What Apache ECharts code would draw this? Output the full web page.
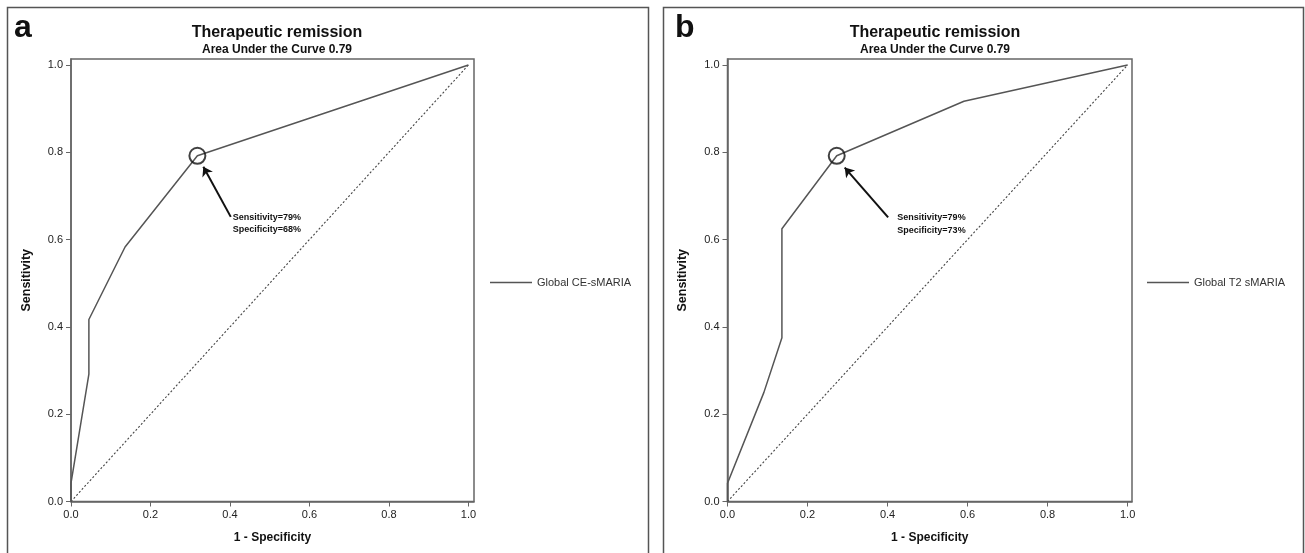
<!DOCTYPE html>
<html>
<head>
<meta charset="utf-8">
<script src="https://cdn.jsdelivr.net/npm/echarts@6/dist/echarts.min.js"></script>
<style>
html,body{margin:0;padding:0;background:#fff;}
#c{width:1305px;height:553px;}
</style>
</head>
<body>
<div id="c"></div>
<script>
// ---- data ----
const TICKS = [0, 0.2, 0.4, 0.6, 0.8, 1.0];
const fprA = [0, 0, 0.045, 0.045, 0.136, 0.318, 1];
const tprA = [0, 0.042, 0.292, 0.417, 0.583, 0.792, 1];
const fprB = [0, 0, 0.091, 0.136, 0.136, 0.273, 0.591, 1];
const tprB = [0, 0.042, 0.25, 0.375, 0.625, 0.792, 0.917, 1];
const refLine = [0, 1];
const cutA = [0.318, 0.792];
const cutB = [0.273, 0.792];
const panelLabels = ['a', 'b'];
const titleText = 'Therapeutic remission';
const subtitleText = 'Area Under the Curve 0.79';
const seriesNames = ['Global CE-sMARIA', 'Global T2 sMARIA'];
const annotA = ['Sensitivity=79%', 'Specificity=68%'];
const annotB = ['Sensitivity=79%', 'Specificity=73%'];

const FONT = '"Liberation Sans", Arial, Helvetica, sans-serif';
const AXC = '#666';
const LINEC = '#555';

function zip(xs, ys) { return xs.map((x, i) => [x, ys[i]]); }

function xAxisFor(gi, max) {
  return {
    type: 'value', gridIndex: gi, min: 0, max: max,
    name: '1 - Specificity', nameLocation: 'middle', nameGap: 30,
    nameTextStyle: { fontFamily: FONT, fontWeight: 'bold', fontSize: 12, color: '#111' },
    axisLine: { show: true, lineStyle: { color: AXC, width: 1.5 } },
    axisTick: { show: true, inside: false, length: 5, customValues: TICKS, lineStyle: { color: AXC, width: 1 } },
    axisLabel: { customValues: TICKS, formatter: v => v.toFixed(1), margin: 8,
      fontFamily: FONT, fontSize: 11, color: '#222' },
    splitLine: { show: false }
  };
}
function yAxisFor(gi, max) {
  return {
    type: 'value', gridIndex: gi, min: 0, max: max,
    name: 'Sensitivity', nameLocation: 'middle', nameGap: 38,
    nameTextStyle: { fontFamily: FONT, fontWeight: 'bold', fontSize: 12.5, color: '#111' },
    axisLine: { show: true, lineStyle: { color: AXC, width: 1.5 } },
    axisTick: { show: true, inside: false, length: 5, customValues: TICKS, lineStyle: { color: AXC, width: 1 } },
    axisLabel: { customValues: TICKS, formatter: v => v.toFixed(1), margin: 8,
      fontFamily: FONT, fontSize: 11, color: '#222' },
    splitLine: { show: false }
  };
}

function curveSeries(gi, name, data) {
  return { type: 'line', name: name, xAxisIndex: gi, yAxisIndex: gi, data: data,
    symbol: 'none', smooth: false, lineStyle: { color: LINEC, width: 1.5 }, itemStyle: { color: LINEC },
    z: 3, animation: false };
}
function refSeries(gi) {
  return { type: 'line', name: 'ref' + gi, xAxisIndex: gi, yAxisIndex: gi, data: zip(refLine, refLine),
    symbol: 'none', lineStyle: { color: '#444', width: 1.1, type: [2, 2] }, z: 2, animation: false, silent: true };
}
function cutSeries(gi, pt, arrowFrom, arrowTo) {
  return { type: 'scatter', name: 'cut' + gi, xAxisIndex: gi, yAxisIndex: gi, data: [pt],
    symbol: 'circle', symbolSize: 16,
    itemStyle: { color: 'rgba(0,0,0,0)', borderColor: '#111', borderWidth: 2 },
    z: 4, animation: false, silent: true,
    markLine: { silent: true, animation: false, symbol: ['none', 'arrow'], symbolSize: 9,
      label: { show: false },
      lineStyle: { color: '#111', width: 2, type: 'solid' },
      data: [[{ coord: arrowFrom }, { coord: arrowTo }]] } };
}

const gridA = { left: 71, top: 59, width: 403, height: 442.5, show: true, borderColor: AXC, borderWidth: 1.5, backgroundColor: 'transparent' };
const gridB = { left: 727.5, top: 59, width: 404.5, height: 442.5, show: true, borderColor: AXC, borderWidth: 1.5, backgroundColor: 'transparent' };

const legendBase = { itemWidth: 42, itemHeight: 1.5, icon: 'rect', orient: 'vertical', selectedMode: false, padding: 0,
  itemStyle: { color: LINEC, borderWidth: 0 },
  textStyle: { fontFamily: FONT, fontSize: 11, color: '#333' } };

const chart = echarts.init(document.getElementById('c'), null, { renderer: 'canvas' });
const option = {
  backgroundColor: '#fff',
  animation: false,
  grid: [gridA, gridB],
  xAxis: [xAxisFor(0, 1.014), xAxisFor(1, 1.011)],
  yAxis: [yAxisFor(0, 1.0137), yAxisFor(1, 1.0137)],
  title: [
    { text: titleText, subtext: subtitleText, left: 272, top: 20, textAlign: 'center', itemGap: 3,
      textStyle: { fontFamily: FONT, fontWeight: 'bold', fontSize: 16, color: '#111' },
      subtextStyle: { fontFamily: FONT, fontWeight: 'bold', fontSize: 12, color: '#111' } },
    { text: titleText, subtext: subtitleText, left: 930, top: 20, textAlign: 'center', itemGap: 3,
      textStyle: { fontFamily: FONT, fontWeight: 'bold', fontSize: 16, color: '#111' },
      subtextStyle: { fontFamily: FONT, fontWeight: 'bold', fontSize: 12, color: '#111' } }
  ],
  legend: [
    Object.assign({ data: [seriesNames[0]], left: 490, top: 277 }, legendBase),
    Object.assign({ data: [seriesNames[1]], left: 1147, top: 277 }, legendBase)
  ],
  series: [
    refSeries(0), curveSeries(0, seriesNames[0], zip(fprA, tprA)),
    cutSeries(0, cutA, [0.402, 0.652], [0.333, 0.767]),
    refSeries(1), curveSeries(1, seriesNames[1], zip(fprB, tprB)),
    cutSeries(1, cutB, [0.4015, 0.651], [0.293, 0.765])
  ],
  graphic: [
    { type: 'rect', shape: { x: 7.5, y: 7.5, width: 641, height: 560 }, style: { fill: 'none', stroke: '#555', lineWidth: 1.5 }, silent: true },
    { type: 'rect', shape: { x: 663.5, y: 7.5, width: 640, height: 560 }, style: { fill: 'none', stroke: '#555', lineWidth: 1.5 }, silent: true },
    { type: 'text', left: 14, top: 12, style: { text: panelLabels[0], font: 'bold 32px ' + FONT, fill: '#111' } },
    { type: 'text', left: 675, top: 12, style: { text: panelLabels[1], font: 'bold 32px ' + FONT, fill: '#111' } }
  ]
};
chart.setOption(option);

// annotation texts placed in data coordinates
const pA = chart.convertToPixel({ gridIndex: 0 }, [0.407, 0.666]);
const pB = chart.convertToPixel({ gridIndex: 1 }, [0.4245, 0.664]);
chart.setOption({
  graphic: option.graphic.concat([
    { type: 'text', x: pA[0], y: pA[1], style: { text: annotA.join('\n'), font: 'bold 9px ' + FONT, fill: '#111', lineHeight: 12.6, verticalAlign: 'top' } },
    { type: 'text', x: pB[0], y: pB[1], style: { text: annotB.join('\n'), font: 'bold 9px ' + FONT, fill: '#111', lineHeight: 12.6, verticalAlign: 'top' } }
  ])
});
</script>
</body>
</html>
